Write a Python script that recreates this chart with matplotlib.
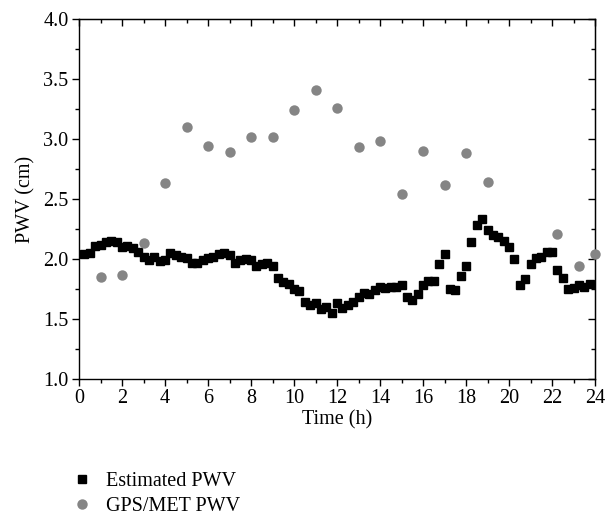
import numpy as np
import matplotlib
matplotlib.use("Agg")
import matplotlib.pyplot as plt
from matplotlib.ticker import MultipleLocator

plt.rcParams['font.family'] = ['Liberation Serif', 'DejaVu Serif']

# Estimated PWV, every 15 min from 0.25 h to 23.75 h
est_time = np.arange(1, 96) * 0.25
est_pwv = [
    2.04, 2.05, 2.11, 2.12, 2.14, 2.15, 2.14, 2.10, 2.11, 2.09, 2.06, 2.02,
    1.99, 2.02, 1.98, 1.99, 2.05, 2.03, 2.02, 2.01, 1.97, 1.97, 1.99, 2.01,
    2.02, 2.04, 2.05, 2.03, 1.97, 1.99, 2.00, 1.99, 1.94, 1.96, 1.97, 1.94,
    1.84, 1.81, 1.79, 1.75, 1.73, 1.64, 1.62, 1.63, 1.58, 1.60, 1.55, 1.63,
    1.59, 1.62, 1.64, 1.68, 1.72, 1.71, 1.74, 1.77, 1.76, 1.77, 1.77, 1.78,
    1.68, 1.66, 1.71, 1.78, 1.82, 1.82, 1.96, 2.04, 1.75, 1.74, 1.86, 1.94,
    2.14, 2.28, 2.33, 2.24, 2.20, 2.18, 2.15, 2.10, 2.00, 1.78, 1.83, 1.96,
    2.01, 2.02, 2.06, 2.06, 1.91, 1.84, 1.75, 1.76, 1.78, 1.77, 1.79,
]

# GPS/MET PWV
gps_time = [1, 2, 3, 4, 5, 6, 7, 8, 9, 10, 11, 12, 13, 14, 15, 16, 17, 18, 19,
            22.25, 23.25, 24]
gps_pwv = [1.85, 1.87, 2.13, 2.63, 3.10, 2.94, 2.89, 3.02, 3.02, 3.24, 3.41,
           3.26, 2.93, 2.98, 2.54, 2.90, 2.62, 2.88, 2.64, 2.21, 1.94, 2.04]

fs = 14.5

fig = plt.figure(figsize=(6.05, 5.15), dpi=100)
ax = fig.add_axes([0.1306, 0.264, 0.853, 0.699])

ax.plot(est_time, est_pwv, 's', color='black', ms=6.4, mec='black',
        label='Estimated PWV', clip_on=False, zorder=3)
ax.plot(gps_time, gps_pwv, 'o', color='#858585', ms=7.5, mec='none',
        label='GPS/MET PWV', clip_on=False, zorder=3)

ax.set_xlim(0, 24)
ax.set_ylim(1.0, 4.0)
ax.xaxis.set_major_locator(MultipleLocator(2))
ax.xaxis.set_minor_locator(MultipleLocator(1))
ax.yaxis.set_major_locator(MultipleLocator(0.5))
ax.yaxis.set_minor_locator(MultipleLocator(0.25))
ax.yaxis.set_major_formatter(plt.FormatStrFormatter('%.1f'))
ax.tick_params(which='major', direction='out', length=5, width=1,
               labelsize=fs, colors='black', pad=2.5)
ax.tick_params(which='minor', direction='out', length=3, width=1)

# mirrored ticks pointing inward on top and right
top = ax.secondary_xaxis('top')
top.xaxis.set_major_locator(MultipleLocator(2))
top.xaxis.set_minor_locator(MultipleLocator(1))
top.tick_params(which='major', direction='in', length=5, width=1, labeltop=False)
top.tick_params(which='minor', direction='in', length=3, width=1)
right = ax.secondary_yaxis('right')
right.yaxis.set_major_locator(MultipleLocator(0.5))
right.yaxis.set_minor_locator(MultipleLocator(0.25))
right.tick_params(which='major', direction='in', length=5, width=1, labelright=False)
right.tick_params(which='minor', direction='in', length=3, width=1)

for s in ax.spines.values():
    s.set_linewidth(1)

ax.set_xlabel('Time (h)', fontsize=fs, labelpad=1)
ax.set_ylabel('PWV (cm)', fontsize=fs, labelpad=6)

fig.legend(loc='upper left', bbox_to_anchor=(0.121, 0.083), frameon=False,
           fontsize=fs, handlelength=0.9, handletextpad=0.75,
           labelspacing=0.3, borderpad=0, borderaxespad=0)

fig.savefig('out.png', dpi=100)
